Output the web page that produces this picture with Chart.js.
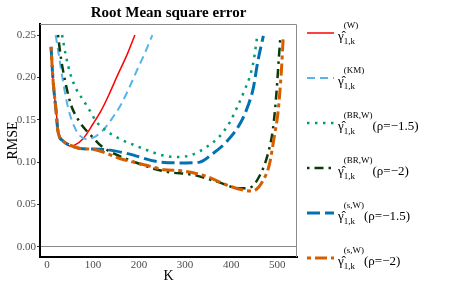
<!DOCTYPE html>
<html>
<head>
<meta charset="utf-8">
<script src="https://cdn.jsdelivr.net/npm/chart.js@4.4.1/dist/chart.umd.min.js"></script>
<style>
  body { margin: 0; background: #fff; }
  #wrap { position: relative; width: 463px; height: 300px; font-family: 'Liberation Serif', serif; }
  .entry { position: absolute; left: 307px; display: flex; align-items: flex-start; color: #000; }
  .entry svg { margin-top: 9px; margin-right: 4px; }
  .g { font-size: 13px; line-height: 13px; margin-top: 10px; }
  .stack { display: flex; flex-direction: column; font-size: 9px; line-height: 9px; }
  .stack .sup { margin-top: 2px; }
  .stack .sub { margin-top: 7px; }
  .rho { font-size: 13px; line-height: 13px; margin-top: 10px; }
</style>
</head>
<body>
<div id="wrap">
  <canvas id="c" width="463" height="300"></canvas>
  <div id="legend"></div>
</div>
<script>
// K values and RMSE, one pair of arrays per estimator
const kW = [9, 13, 20, 25, 35, 50, 60, 79, 100, 118, 135, 153, 175, 191];
const rmseW = [0.236, 0.199, 0.160, 0.137, 0.125, 0.119, 0.120, 0.128, 0.145, 0.161, 0.180, 0.202, 0.228, 0.250];

const kKM = [19, 26, 35, 46, 61, 72, 87, 105, 124, 142, 160, 178, 196, 213, 229];
const rmseKM = [0.250, 0.226, 0.195, 0.164, 0.140, 0.131, 0.127, 0.130, 0.139, 0.152, 0.167, 0.187, 0.209, 0.229, 0.250];

const kBR15 = [33, 41, 52, 63, 79, 94, 107, 124, 160, 190, 218, 251, 288, 317, 347, 376, 397, 415, 430, 440, 449, 457];
const rmseBR15 = [0.250, 0.226, 0.202, 0.187, 0.173, 0.160, 0.148, 0.139, 0.127, 0.120, 0.114, 0.108, 0.106, 0.109, 0.118, 0.131, 0.147, 0.167, 0.186, 0.200, 0.220, 0.250];

const kBR2 = [24, 31, 41, 52, 68, 86, 100, 118, 146, 196, 240, 266, 317, 369, 419, 441, 461, 480, 491, 498, 504, 507];
const rmseBR2 = [0.250, 0.221, 0.192, 0.168, 0.150, 0.137, 0.129, 0.119, 0.110, 0.099, 0.091, 0.088, 0.085, 0.077, 0.069, 0.070, 0.083, 0.110, 0.140, 0.179, 0.226, 0.248];

const kS15 = [9, 13, 20, 24, 35, 50, 72, 124, 175, 247, 303, 332, 360, 390, 421, 437, 448, 458, 470];
const rmseS15 = [0.236, 0.199, 0.160, 0.136, 0.125, 0.120, 0.116, 0.115, 0.110, 0.100, 0.099, 0.100, 0.110, 0.124, 0.147, 0.167, 0.187, 0.219, 0.249];

const kS2 = [9, 13, 20, 24, 35, 50, 66, 109, 160, 218, 255, 288, 347, 390, 426, 440, 452, 469, 483, 493, 502, 509, 513];
const rmseS2 = [0.236, 0.199, 0.160, 0.136, 0.125, 0.120, 0.117, 0.114, 0.104, 0.096, 0.091, 0.090, 0.083, 0.073, 0.067, 0.066, 0.067, 0.078, 0.097, 0.128, 0.160, 0.207, 0.246];

const xTicks = [0, 100, 200, 300, 400, 500];
const yTicks = [0, 0.05, 0.10, 0.15, 0.20, 0.25];

const series = [
  { k: kW, v: rmseW, color: '#FF0000', width: 1.5, dash: [], sup: '(W)', rho: '' },
  { k: kKM, v: rmseKM, color: '#56B4E9', width: 2, dash: [8, 5], sup: '(KM)', rho: '' },
  { k: kBR15, v: rmseBR15, color: '#009E73', width: 2.5, dash: [2.5, 5.5], sup: '(BR,W)', rho: '(\u03c1=\u22121.5)' },
  { k: kBR2, v: rmseBR2, color: '#0B3B0B', width: 2.5, dash: [2.5, 5, 9, 5], sup: '(BR,W)', rho: '(\u03c1=\u22122)' },
  { k: kS15, v: rmseS15, color: '#0072B2', width: 3, dash: [13, 5], sup: '(s,W)', rho: '(\u03c1=\u22121.5)' },
  { k: kS2, v: rmseS2, color: '#D55E00', width: 3, dash: [4, 4, 12, 4], sup: '(s,W)', rho: '(\u03c1=\u22122)' },
];

const FONT = "'Liberation Serif', serif";

// top and right edges of the panel in grey (left/bottom are the black axis lines)
const panelEdges = {
  id: 'panelEdges',
  beforeDatasetsDraw(chart) {
    const { ctx, chartArea: a } = chart;
    ctx.save();
    ctx.strokeStyle = '#8a8a8a';
    ctx.lineWidth = 1;
    ctx.beginPath();
    ctx.moveTo(a.left, a.top + 0.5);
    ctx.lineTo(a.right - 0.5, a.top + 0.5);
    ctx.lineTo(a.right - 0.5, a.bottom);
    ctx.stroke();
    ctx.restore();
  },
};

new Chart(document.getElementById('c'), {
  type: 'line',
  data: {
    datasets: series.map((s, i) => ({
      data: s.k.map((k, j) => ({ x: k, y: s.v[j] })),
      borderColor: s.color,
      borderWidth: s.width,
      borderDash: s.dash,
      pointRadius: 0,
      cubicInterpolationMode: 'monotone',
      fill: false,
      order: series.length - i,
    })),
  },
  options: {
    responsive: false,
    animation: false,
    devicePixelRatio: 1,
    layout: { padding: { left: 0, top: 0, right: 166, bottom: 0 } },
    plugins: {
      legend: { display: false },
      tooltip: { enabled: false },
      title: {
        display: true,
        text: 'Root Mean square error',
        fullSize: false,
        color: '#000',
        font: { family: FONT, size: 15, weight: 'bold' },
        padding: { top: 4, bottom: 2 },
      },
    },
    scales: {
      x: {
        type: 'linear',
        min: -15,
        max: 543,
        afterFit: (s) => { s.height = 43; },
        afterBuildTicks: (s) => { s.ticks = xTicks.map((v) => ({ value: v })); },
        ticks: { color: '#4d4d4d', font: { family: FONT, size: 11 }, padding: 2, callback: (v) => String(v) },
        grid: { display: false, drawTicks: false },
        border: { color: '#000', width: 2 },
        title: { display: true, text: 'K', color: '#000', font: { family: FONT, size: 14 }, padding: { top: 0, bottom: 15 } },
      },
      y: {
        min: -0.012,
        max: 0.263,
        afterFit: (s) => { s.width = 40; },
        afterBuildTicks: (s) => { s.ticks = yTicks.map((v) => ({ value: v })); },
        ticks: { color: '#4d4d4d', font: { family: FONT, size: 11 }, padding: 1, callback: (v) => v.toFixed(2) },
        grid: {
          color: (c) => (c.tick && c.tick.value === 0 ? '#8a8a8a' : 'rgba(0,0,0,0)'),
          tickColor: '#333',
          tickLength: 3,
          lineWidth: 1,
        },
        border: { color: '#000', width: 2 },
        title: { display: true, text: 'RMSE', color: '#000', font: { family: FONT, size: 14 }, padding: { top: 5, bottom: 0 } },
      },
    },
  },
  plugins: [panelEdges],
});

// legend with plotmath-like labels
const legendY = [33, 78, 123, 168, 213, 258];
document.getElementById('legend').innerHTML = series.map((s, i) => `
  <div class="entry" style="top:${legendY[i] - 14}px">
    <svg width="27" height="10"><line x1="0" y1="5" x2="27" y2="5" stroke="${s.color}" stroke-width="${s.width}" stroke-dasharray="${s.dash.join(',') || 'none'}"/></svg>
    <span class="g">\u03b3\u0302</span>
    <span class="stack"><span class="sup">${s.sup}</span><span class="sub">1,k</span></span>
    <span class="rho">${s.rho}</span>
  </div>`).join('');
</script>
</body>
</html>
